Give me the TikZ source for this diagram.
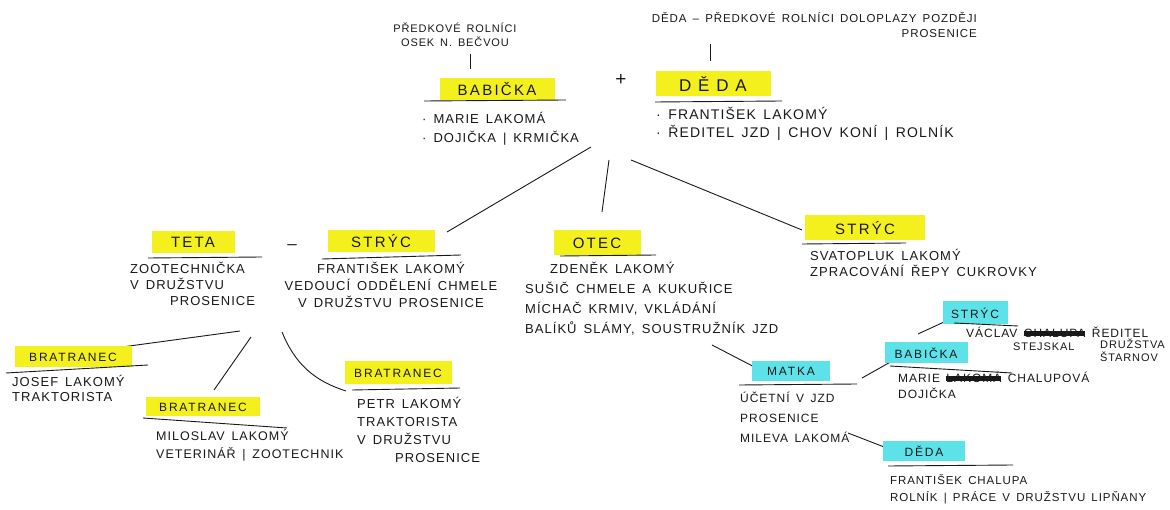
\documentclass[tikz,border=0pt]{standalone}
\usepackage{fontspec}
\setmainfont{Liberation Sans}[LetterSpace=8, WordSpace=1.5]
\newfontfamily\titlefont{Liberation Sans}[LetterSpace=15]
\usetikzlibrary{positioning}
\definecolor{hlyellow}{RGB}{244,240,30}
\definecolor{hlcyan}{RGB}{92,226,232}
\definecolor{ink}{RGB}{25,25,25}
\newsavebox\scribbox
\newcommand{\scrib}[1]{\sbox\scribbox{#1}\rlap{\usebox\scribbox}\rule[0.1em]{\wd\scribbox}{5.5pt}}
\tikzset{
 hl/.style={fill=hlyellow, inner sep=0pt, text=ink, minimum height=22pt,
   font=\titlefont\fontsize{15}{15}\selectfont},
 hlc/.style={hl, fill=hlcyan, minimum height=20pt,
   font=\titlefont\fontsize{12}{12}\selectfont},
 info/.style={align=left, inner sep=0pt, anchor=north west, text=ink,
   font=\fontsize{13}{#1}\selectfont, execute at begin node=\strut},
 info/.default=18,
 note/.style={inner sep=0pt, text=ink, font=\fontsize{11}{14}\selectfont},
 rule/.style={line width=0.9pt, ink},
 link/.style={line width=0.9pt, ink},
}

\begin{document}
\begin{tikzpicture}[x=1pt, y=-1pt]
        \useasboundingbox[fill=white] (0,0) rectangle (1170,510);

        % prarodice
        \node[note, align=center] (origB) at (455, 35) {PŘEDKOVÉ ROLNÍCI\\OSEK N. BEČVOU};
        \node[note, align=right, anchor=east, font=\fontsize{11.5}{15}\selectfont] (origD) at (977, 25) {DĚDA – PŘEDKOVÉ ROLNÍCI DOLOPLAZY POZDĚJI\\PROSENICE};
        \coordinate (tickBa) at (470, 54);
        \coordinate (tickBb) at (470, 69);
        \coordinate (tickDa) at (710, 44);
        \coordinate (tickDb) at (710, 61);
        \draw[link] (tickBa) -- (tickBb);
        \draw[link] (tickDa) -- (tickDb);

        \node[hl, minimum width=115pt] (babicka) at (497, 89) {BABIČKA};
        \draw[rule] (424, 101) -- (566, 100);
        \node[info=19] (babickaInfo) at (422, 112) {· MARIE LAKOMÁ\\· DOJIČKA | KRMIČKA};

        \node[note, font=\fontsize{19}{19}\selectfont] (plus) at (621, 80) {+};

        \node[hl, minimum width=115pt, minimum height=25pt,
          font=\titlefont\addfontfeature{LetterSpace=40}\fontsize{17}{17}\selectfont] (deda) at (713, 84) {DĚDA};
        \draw[rule] (655, 102) -- (782, 101);
        \node[info=18, font=\fontsize{14}{18}\selectfont] (dedaInfo) at (656, 107) {· FRANTIŠEK LAKOMÝ\\· ŘEDITEL JZD | CHOV KONÍ | ROLNÍK};

        % deti
        \coordinate (gpA) at (591, 147);
        \coordinate (gpB) at (609, 160);
        \coordinate (gpC) at (631, 160);
        \coordinate (toStrycL) at (447, 232);
        \coordinate (toOtec) at (602, 212);
        \coordinate (toStrycR) at (802, 230);
        \draw[link] (gpA) -- (toStrycL);
        \draw[link] (gpB) -- (toOtec);
        \draw[link] (gpC) -- (toStrycR);

        \node[hl, minimum width=83pt] (teta) at (193, 242) {TETA};
        \draw[rule] (148, 258) -- (262, 257);
        \node[info=16] (tetaInfo) at (130, 262) {ZOOTECHNIČKA\\V DRUŽSTVU\\\hspace*{40pt}PROSENICE};

        \node[note, font=\fontsize{17}{17}\selectfont] (pairDash) at (292, 247) {–};

        \node[hl, minimum width=107pt] (strycL) at (381, 241) {STRÝC};
        \draw[rule] (322, 259) -- (461, 255);
        \node[info=17, align=center, anchor=north] (strycLInfo) at (391, 262) {FRANTIŠEK LAKOMÝ\\VEDOUCÍ ODDĚLENÍ CHMELE\\V DRUŽSTVU PROSENICE};

        \node[hl, minimum width=87pt, minimum height=25pt] (otec) at (597, 243) {OTEC};
        \draw[rule] (560, 256) -- (656, 255);
        \node[info=20] (otecInfo) at (525, 262) {\hspace*{25pt}ZDENĚK LAKOMÝ\\SUŠIČ CHMELE A KUKUŘICE\\MÍCHAČ KRMIV, VKLÁDÁNÍ\\BALÍKŮ SLÁMY, SOUSTRUŽNÍK JZD};

        \node[hl, minimum width=120pt, minimum height=25pt] (strycR) at (865, 228) {STRÝC};
        \draw[rule] (802, 244) -- (906, 243);
        \node[info=16] (strycRInfo) at (810, 249) {SVATOPLUK LAKOMÝ\\ZPRACOVÁNÍ ŘEPY CUKROVKY};

        % bratranci
        \coordinate (pairA) at (240, 331);
        \coordinate (pairB) at (251, 337);
        \coordinate (pairC) at (282, 332);
        \coordinate (toBratrA) at (122, 347);
        \coordinate (toBratrB) at (214, 390);
        \coordinate (toBratrC) at (346, 391);
        \draw[link] (pairA) -- (toBratrA);
        \draw[link] (pairB) -- (toBratrB);
        \draw[link] (pairC) to[bend right=25] (toBratrC);

        \node[hl, minimum width=117pt, minimum height=21pt, font=\titlefont\fontsize{12}{12}\selectfont] (bratrA) at (73, 357) {BRATRANEC};
        \draw[rule] (6, 373) -- (148, 365);
        \node[info=15] (bratrAInfo) at (12, 375) {JOSEF LAKOMÝ\\TRAKTORISTA};

        \node[hl, minimum width=114pt, minimum height=19pt, font=\titlefont\fontsize{12}{12}\selectfont] (bratrB) at (203, 407) {BRATRANEC};
        \draw[rule] (143, 418) -- (287, 428);
        \node[info=18, font=\fontsize{12.5}{18}\selectfont] (bratrBInfo) at (156, 429) {MILOSLAV LAKOMÝ\\VETERINÁŘ | ZOOTECHNIK};

        \node[hl, minimum width=107pt, minimum height=23pt, font=\titlefont\fontsize{12}{12}\selectfont] (bratrC) at (398, 373) {BRATRANEC};
        \draw[rule] (352, 390) -- (460, 388);
        \node[info=18] (bratrCInfo) at (357, 397) {PETR LAKOMÝ\\TRAKTORISTA\\V DRUŽSTVU\\\hspace*{38pt}PROSENICE};

        % matka a jeji rodice
        \coordinate (otecOut) at (712, 345);
        \coordinate (toMatka) at (764, 372);
        \draw[link] (otecOut) -- (toMatka);

        \node[hlc, minimum width=78pt] (matka) at (791, 371) {MATKA};
        \draw[rule] (739, 385) -- (857, 384);
        \node[info=20, font=\fontsize{12}{20}\selectfont] (matkaInfo) at (740, 392) {ÚČETNÍ V JZD\\PROSENICE\\MILEVA LAKOMÁ};

        \coordinate (matkaUp) at (862, 378);
        \coordinate (toBabickaR) at (894, 360);
        \coordinate (matkaDown) at (848, 433);
        \coordinate (toDedaR) at (897, 452);
        \draw[link] (matkaUp) -- (toBabickaR);
        \draw[link] (matkaDown) -- (toDedaR);

        \node[hlc, minimum width=83pt, minimum height=21pt] (babickaR) at (926, 353) {BABIČKA};
        \draw[rule] (890, 366) -- (1012, 373);
        \node[info, font=\fontsize{12}{16}\selectfont] (babickaRInfo) at (898, 372) {MARIE \scrib{LAKOMÁ} CHALUPOVÁ\\DOJIČKA};

        \coordinate (babickaUp) at (918, 334);
        \coordinate (toStrycC) at (944, 322);
        \draw[link] (babickaUp) -- (toStrycC);

        \node[hlc, minimum width=65pt, minimum height=23pt] (strycC) at (975, 313) {STRÝC};
        \draw[rule] (954, 323) -- (1018, 326);
        \node[info, font=\fontsize{12}{16}\selectfont] (strycCInfo) at (966, 326) {VÁCLAV \scrib{CHALUPA} ŘEDITEL};
        \node[info, font=\fontsize{11}{14}\selectfont] (strycCName) at (1013, 341) {STEJSKAL};
        \node[info, font=\fontsize{11}{13}\selectfont] (strycCWork) at (1100, 339) {DRUŽSTVA\\ŠTARNOV};

        \node[hlc, minimum width=82pt] (dedaR) at (924, 451) {DĚDA};
        \draw[rule] (888, 466) -- (1013, 465);
        \node[info, font=\fontsize{11.5}{17}\selectfont] (dedaRInfo) at (890, 474) {FRANTIŠEK CHALUPA\\ROLNÍK | PRÁCE V DRUŽSTVU LIPŇANY};
\end{tikzpicture}
\end{document}
